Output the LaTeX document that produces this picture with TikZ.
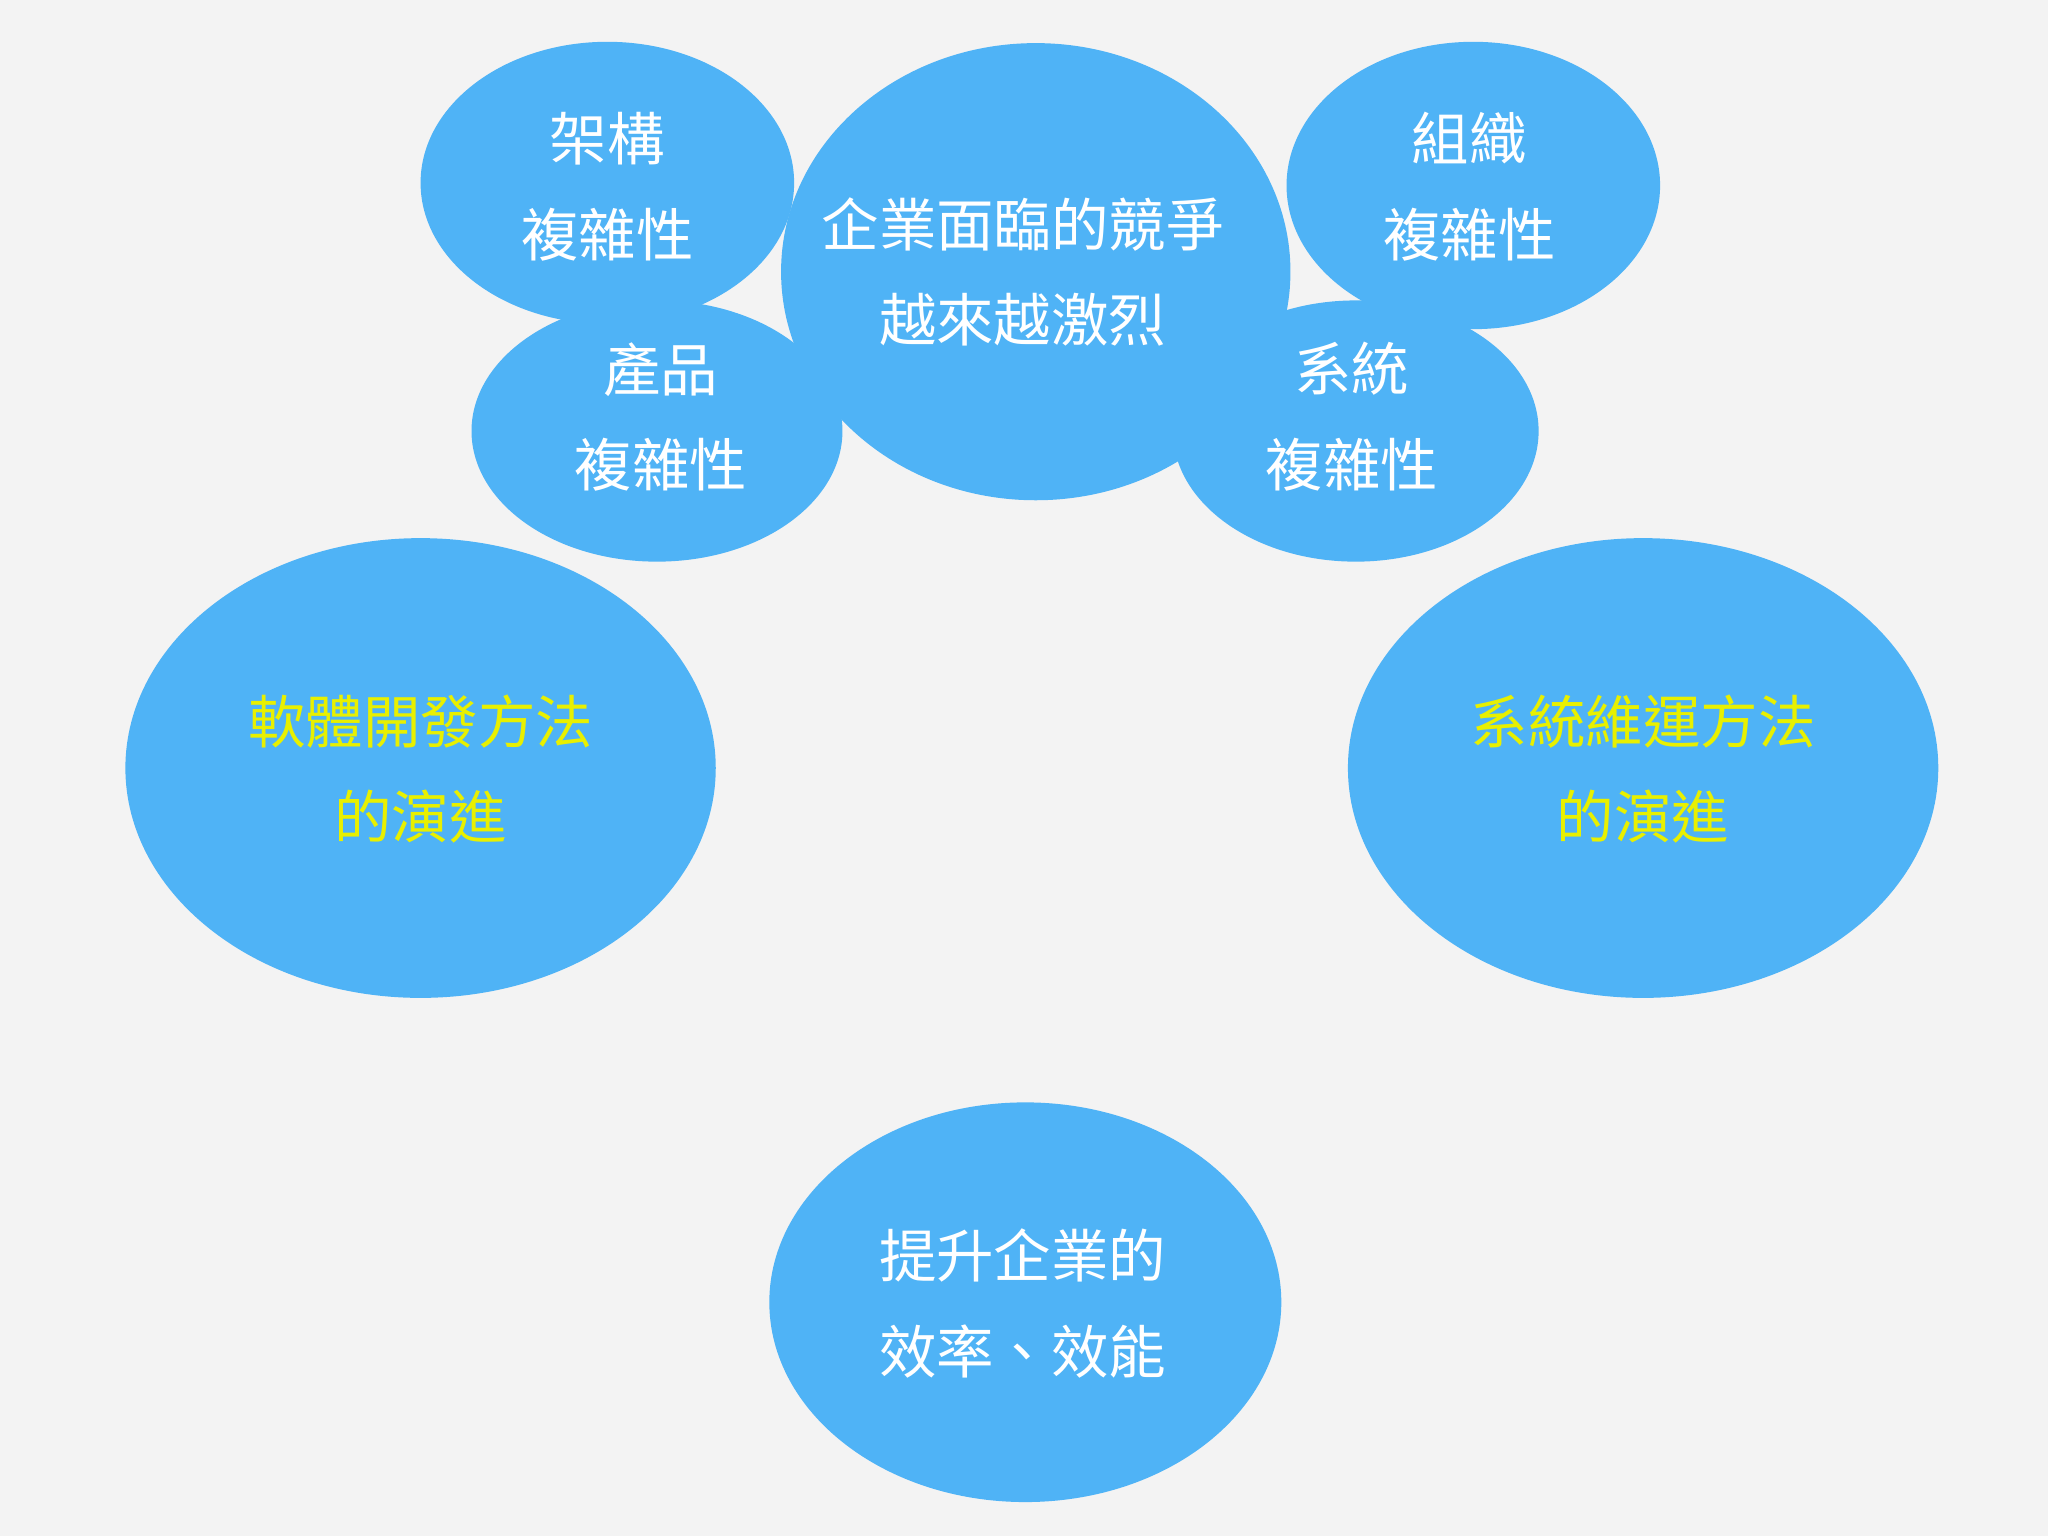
\documentclass[tikz,border=0pt]{standalone}
\usepackage{fontspec}
\newfontfamily\cjk{Noto Sans CJK TC}
\definecolor{bub}{HTML}{4FB3F6}
\definecolor{bg}{HTML}{F3F3F3}
\definecolor{ylw}{HTML}{E8F000}
\tikzset{blob/.style={fill=bub,draw=none},
 txt/.style={font=\cjk\fontsize{44}{73}\selectfont,text=white,align=center,inner sep=0pt},
 ytxt/.style={txt,text=ylw}}
\begin{document}
\begin{tikzpicture}[x=1pt,y=-1pt]
\fill[bg] (0,0) rectangle (1568,1176);
\useasboundingbox (0,0) rectangle (1568,1176);
% cloud
\fill[blob] (793,208) ellipse [x radius=195,y radius=175];
\fill[blob] (465,140) ellipse [x radius=143,y radius=108];
\fill[blob] (1128,142) ellipse [x radius=143,y radius=110];
\fill[blob] (503,330) ellipse [x radius=142,y radius=100];
\fill[blob] (1038,330) ellipse [x radius=140,y radius=100];
\node[txt] (a) at (465,143) {架構\\複雜性};
\node[txt] (b) at (506,319) {產品\\複雜性};
\node[txt] (c) at (783,208) {企業面臨的競爭\\越來越激烈};
\node[txt] (d) at (1125,143) {組織\\複雜性};
\node[txt] (e) at (1035,319) {系統\\複雜性};
% big bubbles
\fill[blob] (322,588) ellipse [x radius=226,y radius=176];
\fill[blob] (1258,588) ellipse [x radius=226,y radius=176];
\fill[blob] (785,997) ellipse [x radius=196,y radius=153];
\node[ytxt] (l) at (322,589) {軟體開發方法\\的演進};
\node[ytxt] (r) at (1258,589) {系統維運方法\\的演進};
\node[txt] (m) at (783,998) {提升企業的\\效率、效能};
\end{tikzpicture}
\end{document}
